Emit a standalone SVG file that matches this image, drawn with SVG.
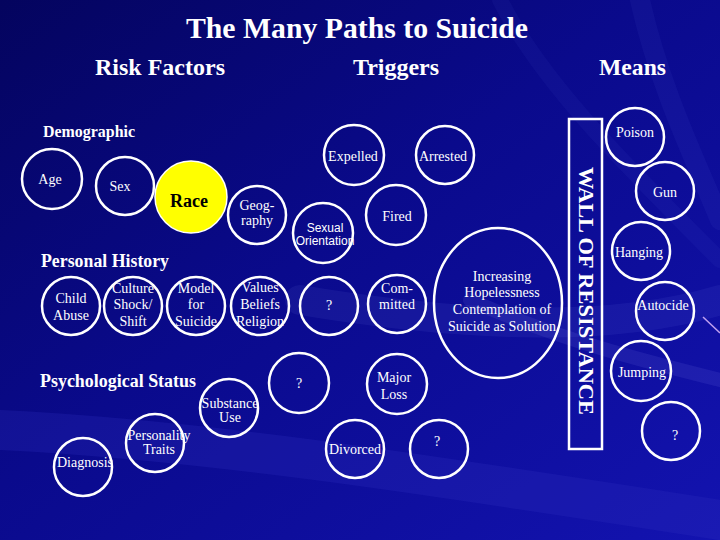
<svg xmlns="http://www.w3.org/2000/svg" width="720" height="540" viewBox="0 0 720 540">
<defs>
<linearGradient id="bg" x1="0" y1="0" x2="1" y2="1">
<stop offset="0" stop-color="#04045e"/>
<stop offset="0.45" stop-color="#0a0a8c"/>
<stop offset="1" stop-color="#1313b0"/>
</linearGradient>
<style>
.c{fill:none;stroke:#ffffff;stroke-width:2.5}
.t{fill:#ffffff;font-family:"Liberation Serif","Times New Roman",serif;font-size:14px;text-anchor:middle}
.s{fill:#ffffff;font-family:"Liberation Sans",Arial,sans-serif;font-size:12px;text-anchor:middle}
.h{fill:#ffffff;font-family:"Liberation Serif","Times New Roman",serif;font-weight:bold}
</style>
</defs>
<rect width="720" height="540" fill="url(#bg)"/>
<g id="background-streaks" fill="none" stroke-linecap="round">
<path d="M720 300 C620 330 480 330 300 300" stroke="#8d93ff" stroke-opacity="0.08" stroke-width="30"/>
<path d="M720 380 C640 360 560 340 470 300" stroke="#9aa0ff" stroke-opacity="0.10" stroke-width="14"/>
<path d="M640 0 C660 90 700 170 720 220" stroke="#7d83ff" stroke-opacity="0.06" stroke-width="20"/>
<path d="M500 0 C540 80 620 160 720 260" stroke="#7d83ff" stroke-opacity="0.05" stroke-width="16"/>
<path d="M0 430 C200 440 400 470 720 520" stroke="#3030c0" stroke-opacity="0.25" stroke-width="40"/>
</g>

<g id="headings">
<text class="h" x="357" y="38" font-size="30" text-anchor="middle" textLength="342" lengthAdjust="spacingAndGlyphs">The Many Paths to Suicide</text>
<text class="h" x="95" y="75" font-size="24" textLength="130" lengthAdjust="spacingAndGlyphs">Risk Factors</text>
<text class="h" x="353" y="75" font-size="24" textLength="86" lengthAdjust="spacingAndGlyphs">Triggers</text>
<text class="h" x="599" y="75" font-size="24" textLength="67" lengthAdjust="spacingAndGlyphs">Means</text>
<text class="h" x="43" y="137" font-size="16" textLength="92" lengthAdjust="spacingAndGlyphs">Demographic</text>
<text class="h" x="41" y="267" font-size="18" textLength="128" lengthAdjust="spacingAndGlyphs">Personal History</text>
<text class="h" x="40" y="387" font-size="18" textLength="156" lengthAdjust="spacingAndGlyphs">Psychological Status</text>
</g>

<g id="wall">
<rect x="569" y="119" width="33" height="330" fill="none" stroke="#ffffff" stroke-width="2.5"/>
<text class="h" font-size="21.5" text-anchor="middle" transform="translate(579,291) rotate(90)" textLength="248" lengthAdjust="spacingAndGlyphs">WALL OF RESISTANCE</text>
</g>

<g id="age"><circle class="c" cx="52" cy="179" r="30"/><text class="t" x="50" y="184">Age</text></g>
<g id="sex"><circle class="c" cx="125" cy="186" r="29"/><text class="t" x="120" y="191">Sex</text></g>
<g id="race"><circle cx="191" cy="197" r="36" fill="#ffff00" stroke="#ffffff" stroke-width="1.5"/><text x="189" y="207" font-family="'Liberation Serif','Times New Roman',serif" font-weight="bold" font-size="18" fill="#000000" text-anchor="middle">Race</text></g>
<g id="geography"><circle class="c" cx="257" cy="215" r="29"/><text class="t" x="257" y="210">Geog-</text><text class="t" x="257" y="225">raphy</text></g>

<g id="child-abuse"><circle class="c" cx="71" cy="306" r="29"/><text class="t" x="71" y="303">Child</text><text class="t" x="71" y="320">Abuse</text></g>
<g id="culture-shock"><circle class="c" cx="133" cy="306" r="29"/><text class="t" x="133" y="293">Culture</text><text class="t" x="133" y="309">Shock/</text><text class="t" x="133" y="326">Shift</text></g>
<g id="model-for-suicide"><circle class="c" cx="196" cy="306" r="29"/><text class="t" x="196" y="293">Model</text><text class="t" x="196" y="309">for</text><text class="t" x="196" y="326">Suicide</text></g>
<g id="values"><circle class="c" cx="260" cy="306" r="29"/><text class="t" x="260" y="292">Values</text><text class="t" x="260" y="309">Beliefs</text><text class="t" x="260" y="326">Religion</text></g>

<g id="substance-use"><circle class="c" cx="229" cy="408" r="29"/><text class="t" x="230" y="408" font-size="12">Substance</text><text class="t" x="230" y="422" font-size="12">Use</text></g>
<g id="personality-traits"><circle class="c" cx="155" cy="443" r="29"/><text class="t" x="159" y="440" font-size="11.5">Personality</text><text class="t" x="159" y="454" font-size="11.5">Traits</text></g>
<g id="diagnosis"><circle class="c" cx="83" cy="467" r="29"/><text class="t" x="85" y="467">Diagnosis</text></g>

<g id="expelled"><circle class="c" cx="354" cy="155" r="30"/><text class="t" x="353" y="161">Expelled</text></g>
<g id="arrested"><circle class="c" cx="445" cy="155" r="29"/><text class="t" x="443" y="161">Arrested</text></g>
<g id="fired"><circle class="c" cx="396" cy="215" r="30"/><text class="t" x="397" y="221">Fired</text></g>
<g id="sexual-orientation"><circle class="c" cx="323" cy="233" r="30"/><text class="s" x="325" y="232">Sexual</text><text class="s" x="325" y="245">Orientation</text></g>
<g id="trigger-q1"><circle class="c" cx="329" cy="306" r="29"/><text class="t" x="329" y="310">?</text></g>
<g id="committed"><circle class="c" cx="397" cy="304" r="29"/><text class="t" x="397" y="293">Com-</text><text class="t" x="397" y="309">mitted</text></g>
<g id="trigger-q2"><circle class="c" cx="299" cy="383" r="30"/><text class="t" x="299" y="388">?</text></g>
<g id="major-loss"><circle class="c" cx="397" cy="384" r="30"/><text class="t" x="394" y="382">Major</text><text class="t" x="394" y="399">Loss</text></g>
<g id="divorced"><circle class="c" cx="355" cy="449" r="29"/><text class="t" x="355" y="454">Divorced</text></g>
<g id="trigger-q3"><circle class="c" cx="439" cy="449" r="29"/><text class="t" x="437" y="446">?</text></g>

<g id="hopelessness"><ellipse class="c" cx="498" cy="303" rx="64" ry="75"/>
<text class="t" x="502" y="281">Increasing</text>
<text class="t" x="502" y="297">Hopelessness</text>
<text class="t" x="502" y="314">Contemplation of</text>
<text class="t" x="502" y="331">Suicide as Solution</text></g>

<g id="poison"><circle class="c" cx="635" cy="137" r="29"/><text class="t" x="635" y="137">Poison</text></g>
<g id="gun"><circle class="c" cx="665" cy="191" r="29"/><text class="t" x="665" y="197">Gun</text></g>
<g id="hanging"><circle class="c" cx="641" cy="251" r="29"/><text class="t" x="639" y="257">Hanging</text></g>
<g id="autocide"><circle class="c" cx="665" cy="311" r="29"/><text class="t" x="663" y="310">Autocide</text></g>
<g id="jumping"><circle class="c" cx="641" cy="371" r="30"/><text class="t" x="642" y="377">Jumping</text></g>
<g id="means-q"><circle class="c" cx="671" cy="431" r="29"/><text class="t" x="675" y="440">?</text></g>

<g id="connectors">
<line x1="703" y1="317" x2="720" y2="333" stroke="#c0a0f0" stroke-width="1.5"/>
</g>
</svg>
